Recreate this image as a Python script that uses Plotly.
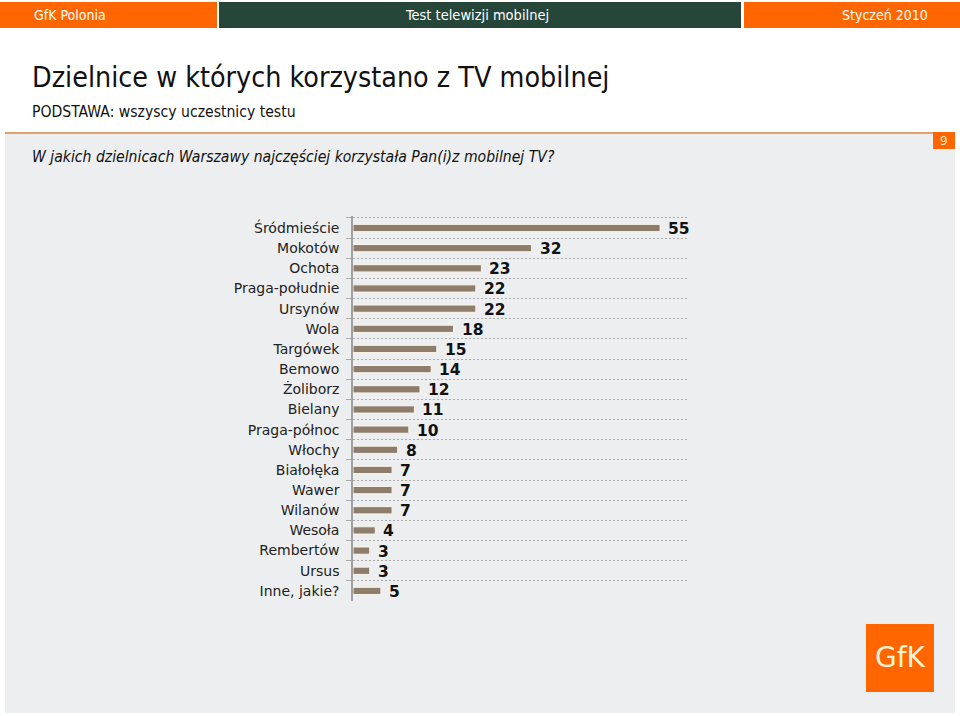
import plotly.graph_objects as go

categories = ["Śródmieście", "Mokotów", "Ochota", "Praga-południe", "Ursynów", "Wola",
              "Targówek", "Bemowo", "Żoliborz", "Bielany", "Praga-północ", "Włochy",
              "Białołęka", "Wawer", "Wilanów", "Wesoła", "Rembertów", "Ursus", "Inne, jakie?"]
values = [55, 32, 23, 22, 22, 18, 15, 14, 12, 11, 10, 8, 7, 7, 7, 4, 3, 3, 5]

header_left = "GfK Polonia"
header_mid = "Test telewizji mobilnej"
header_right = "Styczeń 2010"
title = "Dzielnice w których korzystano z TV mobilnej"
subtitle = "PODSTAWA: wszyscy uczestnicy testu"
question = "W jakich dzielnicach Warszawy najczęściej korzystała Pan(i)z mobilnej TV?"
page_no = "9"

W, H = 960, 716
def px(x):
    return x / W
def py(y):
    return 1 - y / H

fig = go.Figure()
fig.add_trace(go.Bar(
    x=values, y=categories, orientation="h",
    marker=dict(color="#8E7D6B", line=dict(color="#FBF6EC", width=1)),
    width=0.36, hoverinfo="x+y",
))

for c, v in zip(categories, values):
    fig.add_annotation(x=v, y=c, xref="x", yref="y", text=f"<b>{v}</b>", showarrow=False,
                       xanchor="left", xshift=6, yshift=-1,
                       font=dict(family="DejaVu Sans", size=15.5, color="#111111"))

shapes = [
    dict(type="rect", xref="paper", yref="paper", x0=px(5), x1=px(955), y0=py(713), y1=py(134),
         fillcolor="#ECEEEF", line=dict(width=0), layer="below"),
    dict(type="rect", xref="paper", yref="paper", x0=0, x1=px(217), y0=py(28), y1=py(2),
         fillcolor="#FF6600", line=dict(width=0), layer="below"),
    dict(type="rect", xref="paper", yref="paper", x0=px(219), x1=px(741), y0=py(28), y1=py(2),
         fillcolor="#27463A", line=dict(width=0), layer="below"),
    dict(type="rect", xref="paper", yref="paper", x0=px(744), x1=1, y0=py(28), y1=py(2),
         fillcolor="#FF6600", line=dict(width=0), layer="below"),
    dict(type="line", xref="paper", yref="paper", x0=px(5), x1=px(934), y0=py(133), y1=py(133),
         line=dict(color="#E0A070", width=2), layer="below"),
    dict(type="rect", xref="paper", yref="paper", x0=px(933), x1=px(955), y0=py(149), y1=py(132),
         fillcolor="#FF6600", line=dict(width=0), layer="below"),
    dict(type="rect", xref="paper", yref="paper", x0=px(866), x1=px(934), y0=py(692), y1=py(624),
         fillcolor="#FF6600", line=dict(width=0), layer="below"),
]

anns = [
    dict(text=header_left, x=px(32), y=py(15), xanchor="left", font=dict(size=14, color="white", family="DejaVu Sans Condensed")),
    dict(text=header_mid, x=px(477), y=py(15), xanchor="center", font=dict(size=14.5, color="white", family="DejaVu Sans Condensed")),
    dict(text=header_right, x=px(930), y=py(15), xanchor="right", font=dict(size=14, color="white", family="DejaVu Sans Condensed")),
    dict(text=title, x=px(30), y=py(78), xanchor="left", font=dict(size=28.4, color="#111111", family="DejaVu Sans Condensed")),
    dict(text=subtitle, x=px(30), y=py(112), xanchor="left", font=dict(size=15.6, color="#111111", family="DejaVu Sans Condensed")),
    dict(text="<i>" + question + "</i>", x=px(30), y=py(157), xanchor="left", font=dict(size=15.6, color="#111111", family="DejaVu Sans Condensed")),
    dict(text=page_no, x=px(944), y=py(141), xanchor="center", font=dict(size=12, color="#FFE8D0", family="DejaVu Sans")),
    dict(text="GfK", x=px(900), y=py(657), xanchor="center", font=dict(size=28, color="#FFF3D8", family="DejaVu Sans")),
]
for a in anns:
    a.update(xref="paper", yref="paper", showarrow=False, yanchor="middle")
    fig.add_annotation(**a)

fig.update_layout(
    width=W, height=H, margin=dict(l=0, r=0, t=0, b=0),
    paper_bgcolor="white", plot_bgcolor="rgba(0,0,0,0)",
    showlegend=False, shapes=shapes,
    xaxis=dict(domain=[px(353), px(688)], range=[0, 60], visible=True, showticklabels=False,
               showgrid=False, zeroline=False, ticks="", fixedrange=True),
    yaxis=dict(domain=[py(601), py(216)], type="category", autorange="reversed",
               tickson="boundaries", showgrid=True, griddash="2px,2px", gridcolor="#A8A8A8", gridwidth=1,
               showline=True, linecolor="#A0A0A0", linewidth=1.5,
               ticks="outside", ticklen=5, tickcolor="#A8A8A8",
               tickfont=dict(family="DejaVu Sans", size=14, color="#222222"), ticklabelstandoff=9,
               fixedrange=True),
    font=dict(family="DejaVu Sans"),
)

fig.write_html("out.html", config={"displayModeBar": False},
               post_script="document.body.style.margin='0';document.body.style.padding='0';")
